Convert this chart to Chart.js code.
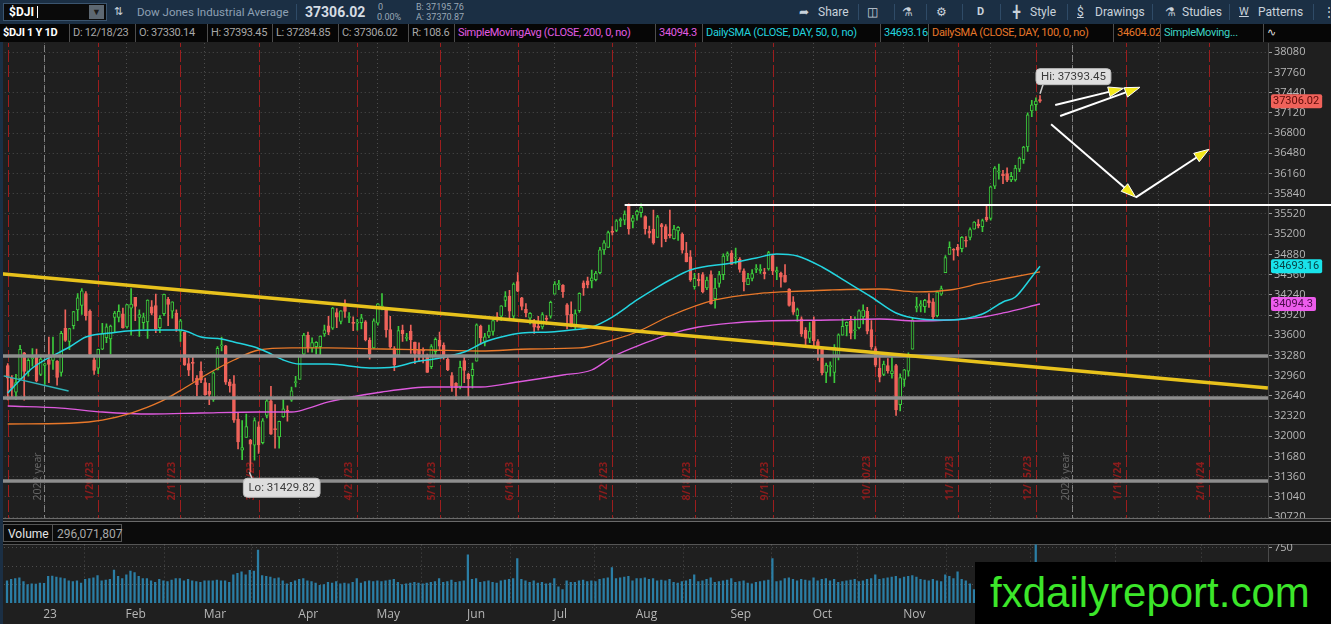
<!DOCTYPE html>
<html>
<head>
<meta charset="utf-8">
<title>$DJI 1 Y 1D</title>
<script src="https://cdn.jsdelivr.net/npm/chart.js@4.4.1/dist/chart.umd.min.js"></script>
<style>
html,body{margin:0;padding:0;width:1331px;height:624px;overflow:hidden;background:#1f1f1f;font-family:Roboto,"Open Sans",sans-serif}
.a{position:absolute;white-space:nowrap}
#toolbar{left:0;top:0;width:1331px;height:24px;background:#1b2f44}
#toolbar .t{top:0;line-height:24px;font-size:12px;color:#c9d2db}
#toolbar .s{top:4px;width:1px;height:16px;background:#2f4b67}
#sym{left:3px;top:3px;width:104px;height:18px;background:#0a0a0a;border:1px solid #3b556f;box-sizing:border-box}
#sym span{position:absolute;left:5px;top:0;line-height:16px;font-size:12px;font-weight:bold;color:#fff}
#sym i{position:absolute;left:33px;top:2px;width:1px;height:12px;background:#fff}
#sym b{position:absolute;right:2px;top:1px;width:15px;height:14px;background:#5d6872;color:#1b1b1b;font-size:9px;line-height:14px;text-align:center}
#legend{left:0;top:24px;width:1331px;height:18px;background:#060606}
#legend .c{top:0;height:18px;line-height:18px;font-size:11px;letter-spacing:-0.3px;color:#a8a8a8;border-right:1px solid #4d4d4d;box-sizing:border-box;padding-left:3px;overflow:hidden}
#priceBox{left:0;top:43px;width:1331px;height:476px;overflow:hidden}
#volBox{left:0;top:544px;width:1331px;height:80px;overflow:hidden}
canvas{position:absolute;left:0;top:-8px}
#panelSep{left:0;top:518px;width:1331px;height:4px;border-top:1px solid #6a6a6a;border-bottom:1px solid #6a6a6a;box-sizing:border-box}
#volHead{left:0;top:522px;width:1331px;height:22px;background:#0b0b0b;border-bottom:1px solid #555}
#volHead div{position:absolute;top:2px;height:18px;line-height:18px;font-size:12px;border:1px solid #555;box-sizing:border-box;padding:0 4px}
#leftEdge{left:0;top:42px;width:3px;height:582px;background:#1b2f44}
#wm{left:975px;top:562px;width:356px;height:62px;background:#000;color:#3ce62a;font:42px "Liberation Sans",Arial,sans-serif;line-height:62px;padding-left:15px;box-sizing:border-box}
</style>
</head>
<body>
<div id="toolbar" class="a">
  <div id="sym" class="a"><span>$DJI</span><i></i><b>&#9660;</b></div>
  <span class="a t" style="left:114px;font-size:11px">&#8645;</span>
  <span class="a t" style="left:137px;color:#8ea0b3;font-size:11.5px">Dow Jones Industrial Average</span>
  <span class="a s" style="left:296px"></span>
  <span class="a t" style="left:305px;font-size:14px;font-weight:bold;color:#d5dce3">37306.02</span>
  <span class="a t" style="left:378px;top:-5px;font-size:9px;color:#9aa8b6">0</span>
  <span class="a t" style="left:377px;top:5px;font-size:9px;color:#9aa8b6">0.00%</span>
  <span class="a t" style="left:416px;top:-5px;font-size:9px;color:#9aa8b6">B: 37195.76</span>
  <span class="a t" style="left:416px;top:5px;font-size:9px;color:#9aa8b6">A: 37370.87</span>
  <span class="a t" style="left:799px">&#10150;</span>
  <span class="a t" style="left:818px">Share</span>
  <span class="a s" style="left:858px"></span>
  <span class="a t" style="left:867px">&#9707;</span>
  <span class="a s" style="left:894px"></span>
  <span class="a t" style="left:902px">&#9879;</span>
  <span class="a s" style="left:926px"></span>
  <span class="a t" style="left:936px">&#9881;</span>
  <span class="a s" style="left:962px"></span>
  <span class="a t" style="left:977px;font-weight:bold;font-size:11px">D</span>
  <span class="a s" style="left:1000px"></span>
  <span class="a t" style="left:1013px">&#9547;</span>
  <span class="a t" style="left:1030px">Style</span>
  <span class="a s" style="left:1067px"></span>
  <span class="a t" style="left:1077px;text-decoration:underline">$</span>
  <span class="a t" style="left:1095px">Drawings</span>
  <span class="a s" style="left:1152px"></span>
  <span class="a t" style="left:1165px">&#9879;</span>
  <span class="a t" style="left:1182px">Studies</span>
  <span class="a s" style="left:1229px"></span>
  <span class="a t" style="left:1239px;text-decoration:underline;font-size:11px">W</span>
  <span class="a t" style="left:1258px">Patterns</span>
  <span class="a s" style="left:1313px"></span>
  <span class="a t" style="left:1323px">&#8942;</span>
</div>
<div id="legend" class="a">
  <div class="a c" style="left:0;width:70px;color:#fff;font-weight:bold">$DJI 1 Y 1D</div>
  <div class="a c" style="left:70px;width:66px">D: 12/18/23</div>
  <div class="a c" style="left:136px;width:72px">O: 37330.14</div>
  <div class="a c" style="left:208px;width:65px">H: 37393.45</div>
  <div class="a c" style="left:273px;width:66px">L: 37284.85</div>
  <div class="a c" style="left:339px;width:70px">C: 37306.02</div>
  <div class="a c" style="left:409px;width:46px">R: 108.6</div>
  <div class="a c" style="left:455px;width:201px;color:#e25ce2">SimpleMovingAvg (CLOSE, 200, 0, no)</div>
  <div class="a c" style="left:656px;width:47px;color:#e25ce2">34094.3</div>
  <div class="a c" style="left:703px;width:178px;color:#23d4df">DailySMA (CLOSE, DAY, 50, 0, no)</div>
  <div class="a c" style="left:881px;width:48px;color:#23d4df">34693.16</div>
  <div class="a c" style="left:929px;width:185px;color:#e8782a">DailySMA (CLOSE, DAY, 100, 0, no)</div>
  <div class="a c" style="left:1114px;width:47px;color:#e8782a">34604.02</div>
  <div class="a c" style="left:1161px;width:103px;color:#3dd4c4">SimpleMoving...</div>
  <div class="a c" style="left:1264px;width:30px;color:#ddd;border-right:none">&#8767;</div>
</div>
<div id="priceBox" class="a"><canvas id="price" width="1331" height="492"></canvas></div>
<div id="panelSep" class="a"></div>
<div id="volHead" class="a">
  <div style="left:3px;width:50px;color:#e6e6e6">Volume</div>
  <div style="left:52px;width:70px;color:#a8a8a8">296,071,807</div>
</div>
<div id="volBox" class="a"><canvas id="vol" width="1331" height="88"></canvas></div>
<div id="leftEdge" class="a"></div>
<div id="wm" class="a">fxdailyreport.com</div>

<script>
// ---- daily bars, 12/16/22 .. 12/18/23 (one entry per session) ----
const days = [
  '12/16/22','12/19/22','12/20/22','12/21/22','12/22/22','12/23/22','12/27/22','12/28/22','12/29/22','12/30/22',
  '1/3','1/4','1/5','1/6','1/9','1/10','1/11','1/12','1/13','1/17','1/18','1/19','1/20','1/23','1/24','1/25','1/26','1/27','1/30','1/31',
  '2/1','2/2','2/3','2/6','2/7','2/8','2/9','2/10','2/13','2/14','2/15','2/16','2/17','2/21','2/22','2/23','2/24','2/27','2/28',
  '3/1','3/2','3/3','3/6','3/7','3/8','3/9','3/10','3/13','3/14','3/15','3/16','3/17','3/20','3/21','3/22','3/23','3/24','3/27','3/28','3/29','3/30','3/31',
  '4/3','4/4','4/5','4/6','4/10','4/11','4/12','4/13','4/14','4/17','4/18','4/19','4/20','4/21','4/24','4/25','4/26','4/27','4/28',
  '5/1','5/2','5/3','5/4','5/5','5/8','5/9','5/10','5/11','5/12','5/15','5/16','5/17','5/18','5/19','5/22','5/23','5/24','5/25','5/26','5/30','5/31',
  '6/1','6/2','6/5','6/6','6/7','6/8','6/9','6/12','6/13','6/14','6/15','6/16','6/20','6/21','6/22','6/23','6/26','6/27','6/28','6/29','6/30',
  '7/3','7/5','7/6','7/7','7/10','7/11','7/12','7/13','7/14','7/17','7/18','7/19','7/20','7/21','7/24','7/25','7/26','7/27','7/28','7/31',
  '8/1','8/2','8/3','8/4','8/7','8/8','8/9','8/10','8/11','8/14','8/15','8/16','8/17','8/18','8/21','8/22','8/23','8/24','8/25','8/28','8/29','8/30','8/31',
  '9/1','9/5','9/6','9/7','9/8','9/11','9/12','9/13','9/14','9/15','9/18','9/19','9/20','9/21','9/22','9/25','9/26','9/27','9/28','9/29',
  '10/2','10/3','10/4','10/5','10/6','10/9','10/10','10/11','10/12','10/13','10/16','10/17','10/18','10/19','10/20','10/23','10/24','10/25','10/26','10/27','10/30','10/31',
  '11/1','11/2','11/3','11/6','11/7','11/8','11/9','11/10','11/13','11/14','11/15','11/16','11/17','11/20','11/21','11/22','11/24','11/27','11/28','11/29','11/30',
  '12/1','12/4','12/5','12/6','12/7','12/8','12/11','12/12','12/13','12/14','12/15','12/18'
];

const open = [
  33120,32920,32700,32910,33320,33020,33230,33260,32980,33120,
  33210,33200,33190,33010,33710,33500,33750,34000,34070,34260,33980,33210,33080,33380,33560,33540,33880,33880,33940,33730,
  34030,34200,33880,33800,33810,34050,34070,33720,33940,34170,33980,33950,33660,33650,33150,33160,32920,33030,32850,
  32710,32580,33050,33430,33430,32860,32830,32270,31780,31980,31940,31860,32150,31900,32330,32560,32110,31990,32310,32400,32570,32850,32900,
  33300,33600,33400,33420,33420,33620,33750,33710,33960,33820,34060,33880,33790,33790,33800,33810,33520,33400,33790,
  34050,34000,33690,33390,33280,33680,33550,33660,33490,33370,33370,33280,33100,33340,33520,33440,33220,32960,32840,32790,33200,32980,
  32960,33190,33740,33500,33590,33660,33880,33900,34150,34220,33900,34450,34190,34010,33870,33820,33740,33730,33860,33900,34250,
  34400,34390,34080,33930,33740,33990,34430,34460,34460,34480,34590,34950,34990,35240,35260,35410,35420,35650,35400,35500,
  35540,35480,35250,35280,35150,35350,35320,35200,35130,35250,35200,34900,34840,34370,34490,34560,34350,34560,34180,34420,34560,34850,34900,
  34820,34800,34620,34400,34500,34640,34620,34600,34650,34860,34600,34580,34550,34330,34130,33910,33860,33680,33550,33830,
  33500,33380,33010,33100,33010,33260,33600,33750,33820,33670,33720,33890,33980,33690,33390,33080,32980,33120,32990,33120,32500,32900,
  33030,33380,34030,34060,34050,34150,34130,33910,34250,34590,34880,34960,34990,34970,35100,35150,35280,35360,35320,35470,35450,
  35960,36180,36150,36160,36060,36060,36230,36380,36580,37150,37250,37330.14
];
const high = [
  33150,32960,32980,33440,33330,33230,33390,33380,33290,33160,
  33570,33570,33200,33660,34000,33710,33980,34260,34340,34290,34000,33280,33380,33790,33780,33760,33980,34080,34030,34090,
  34340,34200,34000,33950,34160,34150,34250,33910,34250,34200,34130,34000,33850,33650,33240,33280,32960,33180,32920,
  32840,33020,33420,33570,33440,32900,32960,32380,32250,32350,31950,32290,32230,32280,32600,32790,32500,32240,32580,32480,32780,32950,33280,
  33630,33650,33560,33500,33590,33760,33900,34040,34020,33990,34160,33960,33890,33850,33930,33830,33560,33860,34100,
  34260,34010,33900,33420,33740,33760,33630,33760,33490,33480,33400,33300,33450,33560,33650,33480,33270,33010,32850,33190,33260,33000,
  33160,33780,33760,33630,33760,33850,33960,34070,34290,34310,34430,34590,34200,34100,33960,33850,33900,33960,33910,34140,34450,
  34470,34400,34100,34130,34000,34270,34460,34520,34630,34610,34990,35100,35250,35320,35430,35460,35570,35680,35500,35580,
  35680,35490,35330,35580,35500,35370,35350,35580,35340,35320,35220,35070,34940,34580,34580,34590,34520,34620,34500,34610,34890,34920,34940,
  34980,34830,34650,34580,34640,34720,34720,34660,34930,34880,34680,34600,34720,34340,34210,34030,33890,33720,33800,33890,
  33530,33380,33160,33180,33450,33620,33860,33810,33900,33890,34000,34080,34040,33830,33420,33250,33190,33230,33300,33140,32990,33060,
  33320,33870,34200,34150,34170,34260,34180,34300,34380,34860,35080,34970,35040,35160,35160,35300,35400,35430,35440,35640,35960,
  36270,36310,36210,36250,36180,36290,36420,36590,37120,37320,37360,37393.45
];
const low = [
  32574,32620,32580,32900,32573,32950,33110,32860,32960,32820,
  32850,33060,32810,32950,33500,33370,33700,33830,33930,33840,33270,32980,32990,33370,33480,33300,33650,33810,33710,33710,
  33600,33830,33580,33700,33550,33920,33640,33640,33910,33750,33870,33660,33500,33120,32960,32870,32640,32850,32650,
  32500,32550,33050,33350,32820,32700,32220,31800,31630,31980,31430,31620,31730,31880,32290,32030,31810,31810,32300,32240,32550,32780,32900,
  33270,33330,33330,33300,33280,33580,33610,33690,33720,33780,33880,33800,33670,33680,33700,33510,33220,33390,33760,
  34000,33570,33390,33040,33280,33500,33510,33310,33150,33180,33160,33010,33070,33280,33360,33220,33040,32710,32580,32750,32850,32590,
  32760,33190,33460,33430,33560,33600,33820,33830,34050,33830,33830,34290,34000,33890,33780,33630,33680,33700,33770,33870,34250,
  34320,34200,33700,33730,33700,33960,34230,34350,34350,34460,34570,34880,34990,35190,35240,35320,35350,35200,35300,35420,
  35470,35200,35140,35040,35150,35000,35080,35140,35120,35100,34900,34760,34450,34330,34380,34270,34320,34090,34030,34360,34480,34780,34720,
  34730,34600,34300,34400,34460,34590,34580,34490,34630,34560,34480,34360,34440,34060,33930,33820,33580,33440,33480,33410,
  33200,32970,32850,32950,32850,33210,33600,33590,33540,33540,33700,33780,33620,33380,33100,32860,32960,33000,32920,32330,32400,32790,
  32950,33380,33970,33970,33960,34040,33860,33890,34230,34590,34880,34790,34860,34920,35000,35110,35280,35300,35240,35400,35420,
  35920,36070,36000,36030,36030,36040,36190,36320,36510,37060,37160,37284.85
];
const close = [
  32920,32757,32850,33376,33027,33203,33241,32876,33221,33147,
  33136,33270,32930,33630,33517,33704,33973,34190,34302,33910,33296,33044,33375,33629,33733,33744,33949,33978,33717,34086,
  34092,34054,33926,33891,34156,33949,33699,33869,34246,34089,34128,33697,33827,33130,33045,33154,32817,32889,32657,
  32662,33004,33391,33431,32856,32798,32255,31910,31820,32155,31875,32247,31862,32245,32561,32031,32106,32238,32433,32395,32718,32860,33274,
  33601,33403,33483,33486,33587,33685,33647,34030,33887,33988,33977,33897,33787,33809,33876,33531,33302,33827,34098,
  34051,33684,33414,33128,33675,33619,33562,33531,33310,33301,33349,33012,33421,33535,33427,33286,33056,32800,32765,33093,33043,32908,
  33061,33763,33563,33573,33665,33833,33877,34066,34212,33979,34408,34299,34054,33952,33947,33727,33715,33927,33852,34122,34408,
  34418,34288,33922,33735,33944,34262,34347,34395,34509,34585,34952,35061,35225,35228,35411,35438,35520,35282,35459,35560,
  35630,35283,35216,35066,35474,35314,35123,35176,35281,35308,34946,34766,34475,34501,34464,34288,34473,34100,34347,34560,34853,34891,34722,
  34838,34642,34443,34501,34577,34664,34646,34576,34908,34619,34625,34518,34441,34070,33964,34007,33619,33551,33667,33508,
  33433,33002,33129,33120,33408,33605,33740,33805,33631,33670,33985,33998,33665,33415,33127,32937,33141,33036,33035,32418,32929,33053,
  33275,33839,34061,34096,34153,34112,33892,34283,34338,34828,34991,34945,34947,35151,35088,35273,35390,35333,35417,35430,35951,
  36245,36204,36125,36054,36117,36248,36404,36578,37090,37248,37306,37306.02
];
// volume in millions of shares
const volume = [
  300,320,330,340,290,250,260,255,270,265,
  360,365,350,340,330,300,290,300,270,320,330,340,370,300,310,320,445,360,330,380,
  430,410,360,330,330,300,280,320,300,290,310,330,330,300,320,300,290,280,300,
  300,300,310,300,300,280,380,400,420,380,440,430,715,370,360,350,330,340,300,260,280,300,320,
  330,300,290,270,240,250,280,270,290,260,270,260,280,330,270,290,300,290,300,
  290,300,310,320,280,250,260,270,280,270,260,270,280,290,330,280,290,310,280,290,300,650,
  320,330,280,290,300,280,270,300,310,320,330,600,320,300,280,300,270,280,260,270,330,
  220,180,300,280,280,300,310,290,300,290,320,330,340,480,330,340,350,360,300,330,
  330,340,320,330,300,310,300,320,280,270,290,300,320,380,290,300,320,340,280,290,300,310,330,
  280,290,300,270,260,280,290,300,310,600,290,300,330,340,320,300,320,310,300,340,
  300,320,330,300,320,280,290,300,310,320,290,300,320,330,380,320,330,340,350,360,330,350,
  360,370,350,320,310,300,320,300,290,380,360,330,420,320,300,260,180,300,320,330,470,
  380,340,330,320,310,300,350,330,420,450,820,296
];

// moving averages as [bar index, value]
const sma50 = [[0,32685],[3,32891],[6,33081],[9,33208],[15,33413],[19,33572],[25,33635],[29,33667],[35,33683],[42,33683],
  [47,33572],[52,33540],[55,33493],[60,33413],[63,33334],[67,33208],[71,33144],[78,33144],[88,33081],[94,33097],[99,33176],
  [105,33239],[111,33334],[116,33493],[120,33572],[125,33635],[132,33651],[137,33683],[142,33730],[147,33888],[153,34158],
  [158,34363],[161,34474],[166,34633],[176,34744],[182,34823],[187,34886],[192,34854],[198,34680],[204,34443],[210,34205],
  [216,33952],[222,33857],[229,33841],[237,33936],[242,34126],[245,34205],[249,34522],[251,34693.16]];
const sma100 = [[0,32194],[16,32210],[23,32257],[30,32368],[37,32543],[43,32764],[49,33002],[55,33208],[61,33366],[69,33398],
  [78,33398],[91,33382],[103,33366],[115,33350],[127,33382],[139,33398],[147,33524],[153,33651],[161,33904],[172,34158],
  [184,34269],[188,34285],[200,34316],[212,34332],[221,34285],[229,34316],[237,34427],[242,34490],[251,34604.02]];
const sma200 = [[0,32479],[13,32447],[23,32384],[35,32352],[47,32368],[61,32384],[69,32384],[74,32463],[78,32543],[91,32701],
  [103,32780],[115,32780],[124,32859],[135,32970],[142,33049],[147,33255],[155,33477],[161,33619],[168,33730],[176,33793],
  [184,33825],[200,33841],[212,33857],[221,33825],[229,33841],[237,33888],[242,33952],[251,34094.3]];

// axis ticks and labels
const priceTicks = [30720,31040,31360,31680,32000,32320,32640,32960,33280,33600,33920,34240,34560,34880,
  35200,35520,35840,36160,36480,36800,37120,37440,37760,38080];
const volumeTicks = [250,500,750];
const volumeTickLabels = ['', '', '750'];
const monthStarts = [10,30,49,72,91,113,134,154,177,197,219,240,260,281];
const monthLabels = ['23','Feb','Mar','Apr','May','Jun','Jul','Aug','Sep','Oct','Nov','Dec','24','Feb'];
const yearMarks = [[8.8,'2022 year'],[258.8,'2023 year']];
// monthly option expirations (bar index, label)
const expiries = [0,22,42,61,85,105,124,147,167,186,211,231,250,272,292];
const expiryLabels = ['12/16/22','1/20/23','2/17/23','3/17/23','4/21/23','5/19/23','6/16/23','7/21/23','8/18/23','9/15/23','10/20/23','11/17/23','12/15/23','1/19/24','2/16/24'];

// drawings on the chart, in (bar index, price)
const levels = [33271, 32606, 31292];
const yellowTrend = [[-1.7,34573],[306.4,32764]];
const tealTrend = [[-1,32956],[14.8,32718]];
const resistance = {from: 150, value: 35662};
const arrows = [
  [[254.7,37246],[271.3,37510]],
  [[255.9,37071],[275.3,37526]],
  [[253.7,36940],[274.3,35784]],
  [[274.3,35784],[292.1,36544]]
];
const hiMark = {i: 251, v: 37393.45, text: 'Hi: 37393.45'};
const loMark = {i: 59, v: 31429.82, text: 'Lo: 31429.82'};
const priceTags = [[37306.02,'#f0625a','#5c0b08'],[34693.16,'#19e3ea','#063f42'],[34094.3,'#ec5cec','#4a0a4a']];

const UP = '#3ccb3c', DOWN = '#ef635b', BG = '#1f1f1f';
const GRID = 'rgba(205,205,205,0.26)';
const PX_PER_BAR = 4.115, FIRST_BAR_X = 7;
const monthTicks = monthStarts.map(v => v - 1.2);

Chart.defaults.font.family = '"Open Sans", sans-serif';
Chart.defaults.font.size = 11;
Chart.defaults.animation = false;

const isUp = i => close[i] >= open[i];

function seg(ctx, x1, y1, x2, y2) {
  ctx.beginPath(); ctx.moveTo(x1, y1); ctx.lineTo(x2, y2); ctx.stroke();
}

function roundBox(ctx, x, y, w, h, r) {
  ctx.beginPath();
  ctx.moveTo(x + r, y); ctx.lineTo(x + w - r, y); ctx.quadraticCurveTo(x + w, y, x + w, y + r);
  ctx.lineTo(x + w, y + h - r); ctx.quadraticCurveTo(x + w, y + h, x + w - r, y + h);
  ctx.lineTo(x + r, y + h); ctx.quadraticCurveTo(x, y + h, x, y + h - r);
  ctx.lineTo(x, y + r); ctx.quadraticCurveTo(x, y, x + r, y); ctx.closePath();
}

function arrow(ctx, x1, y1, x2, y2) {
  const a = Math.atan2(y2 - y1, x2 - x1), hl = 15, hw = 5;
  const bx = x2 - hl * Math.cos(a), by = y2 - hl * Math.sin(a);
  ctx.strokeStyle = '#fff'; ctx.lineWidth = 2;
  seg(ctx, x1, y1, bx, by);
  ctx.beginPath();
  ctx.moveTo(x2, y2);
  ctx.lineTo(bx + hw * Math.sin(a), by - hw * Math.cos(a));
  ctx.lineTo(bx - hw * Math.sin(a), by + hw * Math.cos(a));
  ctx.closePath();
  ctx.fillStyle = '#f3e81a'; ctx.fill();
  ctx.lineWidth = 1; ctx.stroke();
}

function bubble(ctx, text, x, y, h) {
  const w = ctx.measureText(text).width + 10;
  ctx.fillStyle = '#dedede'; roundBox(ctx, x, y, w, h, 4); ctx.fill();
  ctx.strokeStyle = '#bdbdbd'; ctx.lineWidth = 1; ctx.stroke();
  ctx.fillStyle = '#3a3a3a'; ctx.fillText(text, x + 5, y + h / 2 + 0.5);
}

const priceOverlay = {
  id: 'priceOverlay',
  beforeDatasetsDraw(chart) {
    const {ctx, chartArea: a, scales: {x}} = chart;
    const H = chart.height;
    ctx.save();
    ctx.lineWidth = 1;
    // month separators
    ctx.strokeStyle = GRID; ctx.setLineDash([1, 3]);
    monthTicks.forEach(v => { const px = Math.round(x.getPixelForValue(v)) + 0.5; seg(ctx, px, 0, px, H); });
    // year separators
    ctx.strokeStyle = 'rgba(185,185,185,0.6)'; ctx.setLineDash([7, 3]);
    ctx.font = '10.5px "Open Sans", sans-serif'; ctx.textBaseline = 'bottom'; ctx.textAlign = 'left';
    yearMarks.forEach(([v, t]) => {
      const px = Math.round(x.getPixelForValue(v)) + 0.5;
      seg(ctx, px, 0, px, H);
      ctx.save(); ctx.translate(px - 1, a.bottom - 18); ctx.rotate(-Math.PI / 2);
      ctx.fillStyle = 'rgba(160,160,160,0.55)'; ctx.fillText(t, 0, 0); ctx.restore();
    });
    // expirations
    ctx.strokeStyle = '#9c1d1d'; ctx.setLineDash([12, 3]);
    ctx.font = 'bold 10.5px "Open Sans", sans-serif';
    expiries.forEach((v, k) => {
      const px = Math.round(x.getPixelForValue(v)) + 0.5;
      seg(ctx, px, 0, px, H);
      if (k === 0) return;
      ctx.save(); ctx.translate(px - 3, a.bottom - 18); ctx.rotate(-Math.PI / 2);
      ctx.fillStyle = '#8c1c1c'; ctx.fillText(expiryLabels[k], 0, 0); ctx.restore();
    });
    ctx.restore();
  },
  afterDatasetsDraw(chart) {
    const {ctx, chartArea: a, scales: {x, y}} = chart;
    const X = v => x.getPixelForValue(v), Y = v => y.getPixelForValue(v);
    ctx.save();
    ctx.beginPath(); ctx.rect(a.left, a.top, a.right - a.left, a.bottom - a.top); ctx.clip();
    // horizontal support levels
    ctx.strokeStyle = '#8e8e8e'; ctx.lineWidth = 3.5;
    levels.forEach(v => seg(ctx, a.left, Y(v), a.right, Y(v)));
    // trend lines
    ctx.strokeStyle = '#e8c21c'; ctx.lineWidth = 3.5;
    seg(ctx, X(yellowTrend[0][0]), Y(yellowTrend[0][1]), X(yellowTrend[1][0]), Y(yellowTrend[1][1]));
    ctx.strokeStyle = '#2fb3b8'; ctx.lineWidth = 1.5;
    seg(ctx, X(tealTrend[0][0]), Y(tealTrend[0][1]), X(tealTrend[1][0]), Y(tealTrend[1][1]));
    arrows.forEach(([p, q]) => arrow(ctx, X(p[0]), Y(p[1]), X(q[0]), Y(q[1])));
    ctx.restore();

    ctx.save();
    // resistance line runs through the price axis
    ctx.strokeStyle = '#fff'; ctx.lineWidth = 2;
    seg(ctx, X(resistance.from), Y(resistance.value), chart.width, Y(resistance.value));
    // hi / lo bubbles
    ctx.font = '11.5px Roboto, sans-serif'; ctx.textBaseline = 'middle'; ctx.textAlign = 'left';
    const hx = X(hiMark.i), hy = Y(hiMark.v);
    ctx.strokeStyle = '#cfcfcf'; ctx.lineWidth = 1.5; seg(ctx, hx, hy - 2, hx + 3, hy - 11);
    bubble(ctx, hiMark.text, hx - 4, hy - 27, 16);
    const lx = X(loMark.i), ly = Y(loMark.v);
    ctx.strokeStyle = '#cfcfcf'; ctx.lineWidth = 1.5; seg(ctx, lx - 1, ly, lx + 2, ly + 7);
    bubble(ctx, loMark.text, lx - 7, ly + 6, 19);
    // price tags on the axis
    ctx.font = '11px Roboto, sans-serif';
    priceTags.forEach(([v, fill, txt]) => {
      const ty = Y(v), w = ctx.measureText(String(v)).width + 5;
      ctx.fillStyle = fill; roundBox(ctx, a.right + 3, ty - 7, w, 14, 2); ctx.fill();
      ctx.fillStyle = txt; ctx.fillText(String(v), a.right + 5, ty + 0.5);
    });
    ctx.restore();
  }
};

const priceChart = new Chart(document.getElementById('price'), {
  type: 'bar',
  data: {
    datasets: [
      {type: 'line', data: sma50.map(([i, v]) => ({x: i, y: v})), borderColor: '#23d4df', borderWidth: 1.5,
       pointRadius: 0, cubicInterpolationMode: 'monotone', order: 0},
      {type: 'line', data: sma100.map(([i, v]) => ({x: i, y: v})), borderColor: '#e8782a', borderWidth: 1.3,
       pointRadius: 0, cubicInterpolationMode: 'monotone', order: 0},
      {type: 'line', data: sma200.map(([i, v]) => ({x: i, y: v})), borderColor: '#dd5add', borderWidth: 1.3,
       pointRadius: 0, cubicInterpolationMode: 'monotone', order: 0},
      {data: close.map((c, i) => ({x: i, y: [low[i], high[i]]})),
       backgroundColor: c => isUp(c.dataIndex) ? UP : DOWN,
       barThickness: 1, grouped: false, order: 2},
      {data: close.map((c, i) => ({x: i, y: [open[i], c]})),
       backgroundColor: c => isUp(c.dataIndex) ? BG : DOWN,
       borderColor: c => isUp(c.dataIndex) ? UP : DOWN,
       borderWidth: 1, borderSkipped: false, minBarLength: 1,
       barThickness: 3, grouped: false, order: 1}
    ]
  },
  options: {
    responsive: false,
    plugins: {legend: {display: false}, tooltip: {enabled: false}},
    scales: {
      x: {type: 'linear', display: false, min: -1.7, max: 306.4, offset: false},
      y: {
        position: 'right', min: 30690, max: 38227,
        afterBuildTicks: s => { s.ticks = priceTicks.filter(v => v >= s.min && v <= s.max).map(v => ({value: v})); },
        ticks: {color: '#b6b6b6', padding: 2, callback: v => String(v)},
        grid: {color: GRID, tickColor: '#9a9a9a', tickLength: 4, tickBorderDash: []},
        border: {display: true, color: '#4a4a4a', dash: [1, 3]},
        afterFit: s => { s.width = 63; }
      }
    }
  },
  plugins: [priceOverlay]
});

const volChart = new Chart(document.getElementById('vol'), {
  type: 'bar',
  data: {
    datasets: [{data: volume.map((v, i) => ({x: i, y: v})), backgroundColor: '#2b7ea5', barThickness: 1.6, grouped: false}]
  },
  options: {
    responsive: false,
    plugins: {legend: {display: false}, tooltip: {enabled: false}},
    scales: {
      x: {
        type: 'linear', min: -1.7, max: 306.4, offset: false,
        afterBuildTicks: s => { s.ticks = monthTicks.map(v => ({value: v})); },
        ticks: {autoSkip: false, maxRotation: 0, align: 'start', padding: 4, color: '#b6b6b6', font: {size: 12},
                callback: (v, k) => monthLabels[k]},
        grid: {color: GRID, drawTicks: false},
        border: {display: false, dash: [1, 3]},
        afterFit: s => { s.height = 21; }
      },
      y: {
        position: 'right', min: 0, max: 800,
        afterBuildTicks: s => { s.ticks = volumeTicks.map(v => ({value: v})); },
        ticks: {color: '#b6b6b6', padding: 2, callback: (v, k) => volumeTickLabels[k]},
        grid: {color: GRID, tickColor: '#9a9a9a', tickLength: 4, tickBorderDash: []},
        border: {display: true, color: '#4a4a4a', dash: [1, 3]},
        afterFit: s => { s.width = 63; }
      }
    }
  }
});

// line the two panels up with the reference pixel grid (bar 0 at x=7)
function fitX(chart) {
  const a = chart.chartArea, sx = chart.options.scales.x;
  sx.min = (a.left - FIRST_BAR_X) / PX_PER_BAR;
  sx.max = sx.min + (a.right - a.left) / PX_PER_BAR;
}
function fitY(chart, ref, refY, k) {
  const a = chart.chartArea, sy = chart.options.scales.y;
  sy.max = ref + (refY - a.top) / k;
  sy.min = sy.max - (a.bottom - a.top) / k;
}
fitX(priceChart); fitY(priceChart, 38080, 52.3 - 35, 0.06315); priceChart.update('none');
fitX(volChart); fitY(volChart, 0, 603 - 536, 0.074); volChart.update('none');
</script>
</body>
</html>
